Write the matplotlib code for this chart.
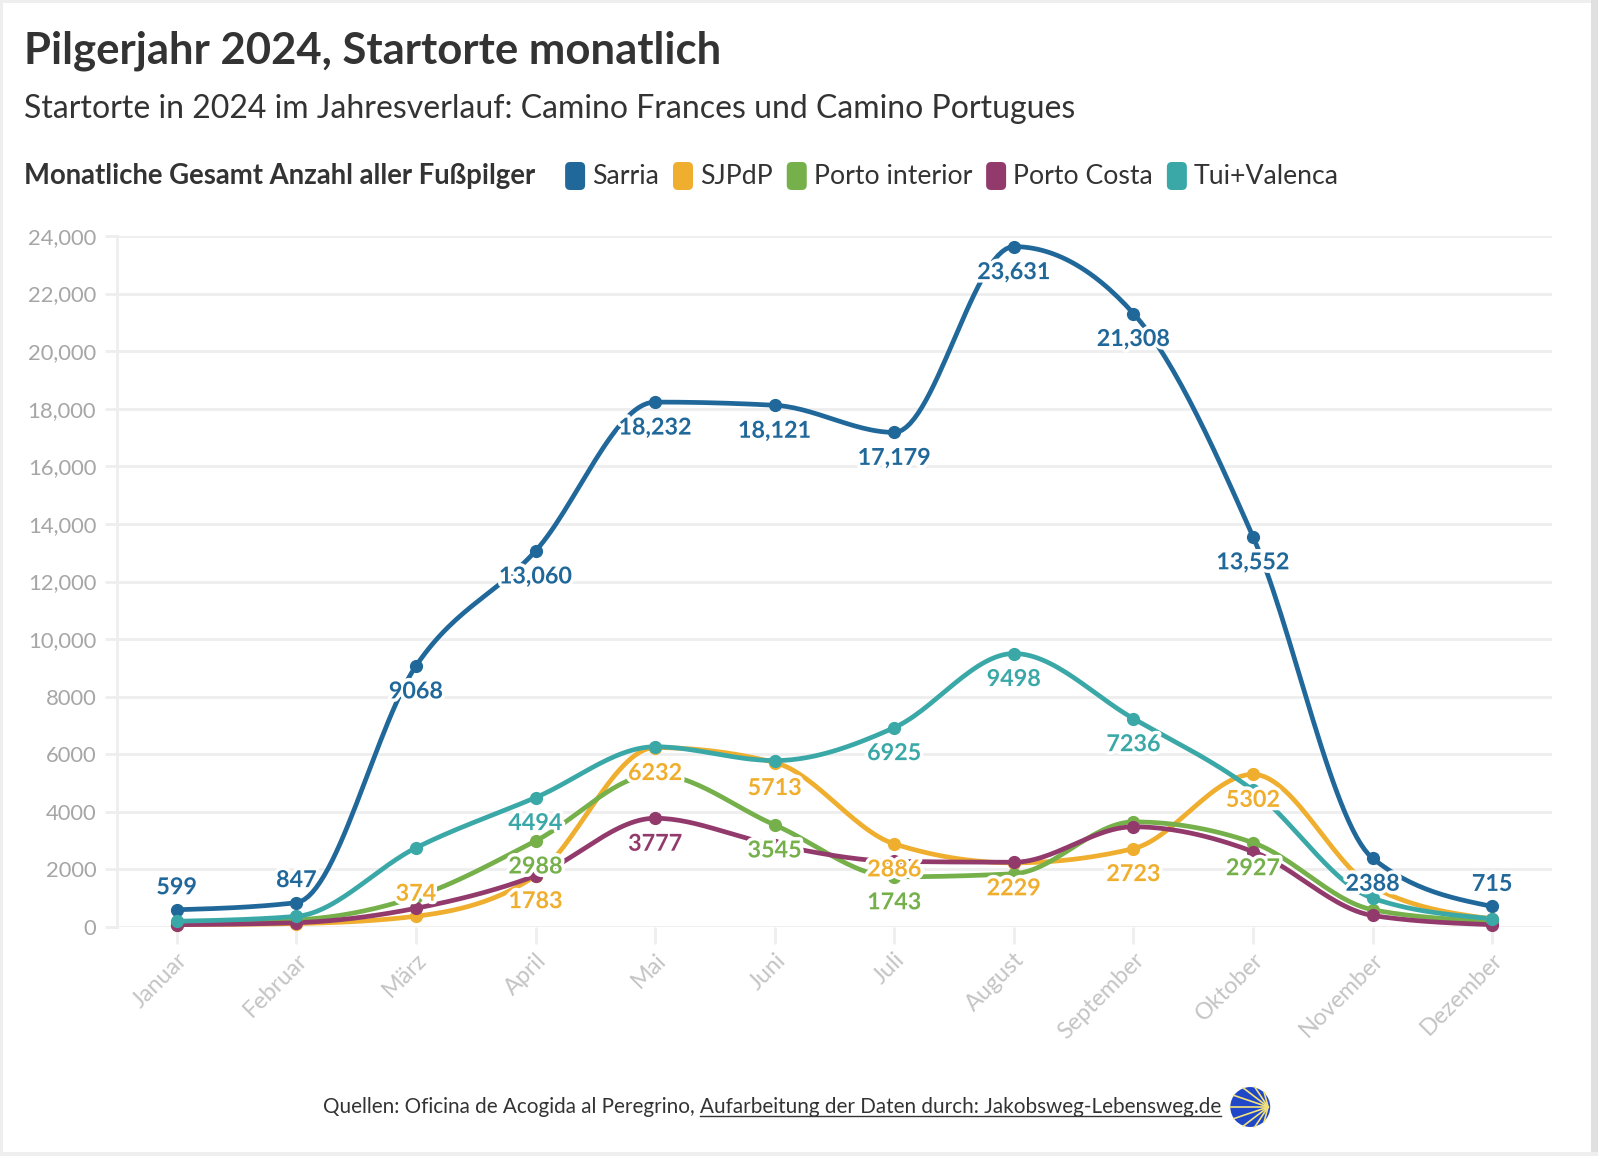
import numpy as np
import matplotlib
matplotlib.use("Agg")
import matplotlib.pyplot as plt
import matplotlib.patheffects as pe
from matplotlib.patches import FancyBboxPatch, Rectangle, Circle
from matplotlib.transforms import IdentityTransform

# ---- data ----
months = ["Januar", "Februar", "März", "April", "Mai", "Juni", "Juli",
          "August", "September", "Oktober", "November", "Dezember"]

series_names = ["Sarria", "SJPdP", "Porto interior", "Porto Costa", "Tui+Valenca"]
series_colors = ["#21689a", "#efae2e", "#76b04b", "#933a6c", "#3ba8a8"]

sarria = [599, 847, 9068, 13060, 18232, 18121, 17179, 23631, 21308, 13552, 2388, 715]
sjpdp = [80, 120, 374, 1783, 6232, 5713, 2886, 2229, 2723, 5302, 1400, 280]
porto_interior = [150, 250, 1050, 2988, 5300, 3545, 1743, 1850, 3650, 2927, 600, 200]
porto_costa = [80, 150, 650, 1780, 3777, 2850, 2280, 2250, 3480, 2620, 400, 80]
tui_valenca = [200, 370, 2750, 4494, 6260, 5780, 6925, 9498, 7236, 4750, 1000, 290]

# which month values carry a visible label (1 = below point, -1 = above point, 0 = none)
sarria_lbl = [-1, -1, 1, 1, 1, 1, 1, 1, 1, 1, 1, -1]
sjpdp_lbl = [0, 0, -1, 1, 1, 1, 1, 1, 1, 1, 0, 0]
porto_interior_lbl = [0, 0, 0, 1, 0, 1, 1, 0, 0, 1, 0, 0]
porto_costa_lbl = [0, 0, 0, 0, 1, 0, 0, 0, 0, 0, 0, 0]
tui_valenca_lbl = [0, 0, 0, 1, 0, 0, 1, 1, 1, 0, 0, 0]

all_values = [sarria, sjpdp, porto_interior, porto_costa, tui_valenca]
all_labels = [sarria_lbl, sjpdp_lbl, porto_interior_lbl, porto_costa_lbl, tui_valenca_lbl]

y_ticks = list(range(0, 24001, 2000))

FONT = "Lato"
DARK = "#333333"


def fmt(v):
    if v >= 10000:
        return f"{v:,.0f}"
    return f"{v:.0f}"


def monotone_x(x, y, n=30):
    # same idea as d3.curveMonotoneX (Steffen)
    x = np.asarray(x, float)
    y = np.asarray(y, float)
    h = np.diff(x)
    s = np.diff(y) / h
    m = np.zeros(len(x))
    for i in range(1, len(x) - 1):
        h0, h1, s0, s1 = h[i - 1], h[i], s[i - 1], s[i]
        p = (s0 * h1 + s1 * h0) / (h0 + h1)
        m[i] = (np.sign(s0) + np.sign(s1)) * min(abs(s0), abs(s1), 0.5 * abs(p))
    m[0] = (3 * s[0] - m[1]) / 2
    m[-1] = (3 * s[-1] - m[-2]) / 2
    xs, ys = [], []
    for i in range(len(x) - 1):
        t = np.linspace(0, 1, n, endpoint=(i == len(x) - 2))
        h00 = 2 * t**3 - 3 * t**2 + 1
        h10 = t**3 - 2 * t**2 + t
        h01 = -2 * t**3 + 3 * t**2
        h11 = t**3 - t**2
        xs.append(x[i] + t * h[i])
        ys.append(h00 * y[i] + h10 * h[i] * m[i] + h01 * y[i + 1] + h11 * h[i] * m[i + 1])
    return np.concatenate(xs), np.concatenate(ys)


W, H = 1598, 1156
fig = plt.figure(figsize=(W / 100, H / 100), dpi=100)
fig.patch.set_facecolor("white")

# light frame of the screenshot
fig.add_artist(Rectangle((0, 0), 3 / W, 1, transform=fig.transFigure, color="#eeeeee", lw=0))
fig.add_artist(Rectangle((0, 1 - 3 / H), 1, 3 / H, transform=fig.transFigure, color="#eeeeee", lw=0))
fig.add_artist(Rectangle((1 - 7 / W, 0), 7 / W, 1, transform=fig.transFigure, color="#e0e0e0", lw=0))
fig.add_artist(Rectangle((0, 0), 1, 4 / H, transform=fig.transFigure, color="#eeeeee", lw=0))

ax = fig.add_axes([117 / W, 1 - 927 / H, (1552 - 117) / W, (927 - 236) / H])
x = np.arange(len(months))

for vals, labs, col in zip(all_values, all_labels, series_colors):
    xs, ys = monotone_x(x, vals)
    ax.plot(xs, ys, color=col, lw=3.4, solid_capstyle="round", zorder=3, clip_on=False)
    ax.plot(x, vals, "o", color=col, ms=8.5, zorder=4, clip_on=False)

for vals, labs, col in zip(all_values, all_labels, series_colors):
    for i, (v, lb) in enumerate(zip(vals, labs)):
        if lb == 0:
            continue
        off = -26 if lb > 0 else 22
        t = ax.annotate(fmt(v), (i, v), xytext=(0, off * 0.72), textcoords="offset points",
                        ha="center", va="center", fontsize=16.8, fontweight="bold",
                        color=col, family=FONT, zorder=6)
        t.set_path_effects([pe.withStroke(linewidth=5, foreground="white")])

ax.set_xlim(-0.5, 11.5)
ax.set_ylim(0, 24000)
ax.set_yticks(y_ticks)
ax.set_yticklabels([fmt(v) for v in y_ticks], fontsize=15.8, color="#a6a6a6", family=FONT)
ax.set_xticks(x)
ax.set_xticklabels(months, rotation=45, ha="right", rotation_mode="anchor",
                   fontsize=16.8, color="#c4c4c4", family=FONT)
ax.tick_params(axis="y", length=9, width=2, color="#eeeeee", pad=6)
ax.tick_params(axis="x", length=12, width=2, color="#eeeeee", pad=4)
ax.grid(axis="y", color="#eeeeee", lw=2)
ax.set_axisbelow(True)
for side in ["top", "right", "bottom"]:
    ax.spines[side].set_visible(False)
ax.spines["left"].set_color("#eeeeee")
ax.spines["left"].set_linewidth(2)

# ---- titles ----
fig.text(24 / W, 1 - 51 / H, "Pilgerjahr 2024, Startorte monatlich", fontsize=31.4,
         fontweight="bold", color=DARK, family=FONT, va="center")
fig.text(24 / W, 1 - 109 / H,
         "Startorte in 2024 im Jahresverlauf: Camino Frances und Camino Portugues",
         fontsize=23, color=DARK, family=FONT, va="center")

# ---- legend ----
fig.canvas.draw()
r = fig.canvas.get_renderer()
ly = H - 176
head = fig.text(24 / W, ly / H, "Monatliche Gesamt Anzahl aller Fußpilger", fontsize=19.8,
                fontweight="bold", color=DARK, family=FONT, va="center")
xpos = head.get_window_extent(r).x1 + 30
for name, col in zip(series_names, series_colors):
    sw = FancyBboxPatch((xpos, ly - 14), 20, 28, boxstyle="round,pad=0,rounding_size=5",
                        transform=IdentityTransform(), color=col, lw=0)
    fig.add_artist(sw)
    t = fig.text((xpos + 27) / W, ly / H, name, fontsize=19.2, color=DARK,
                 family=FONT, va="center")
    xpos = t.get_window_extent(r).x1 + 14

# ---- footer ----
fy = H - 1107
f1 = fig.text(323 / W, fy / H, "Quellen: Oficina de Acogida al Peregrino, ", fontsize=14.9,
              color=DARK, family=FONT, va="center")
x1 = f1.get_window_extent(r).x1
f2 = fig.text(x1 / W, fy / H, "Aufarbeitung der Daten durch: Jakobsweg-Lebensweg.de",
              fontsize=14.9, color=DARK, family=FONT, va="center")
bb = f2.get_window_extent(r)
fig.add_artist(plt.Line2D([bb.x0, bb.x1], [bb.y0 + 1, bb.y0 + 1], transform=IdentityTransform(),
                          color=DARK, lw=1))
cx, cy, rad = bb.x1 + 29, fy, 21
disc = Circle((cx, cy), rad, transform=IdentityTransform(), color="#1f47c8", lw=0)
fig.add_artist(disc)
for ang in np.linspace(105, 255, 9):
    a = np.deg2rad(ang)
    ray = plt.Line2D([cx + rad * 0.85, cx + rad * 0.85 + rad * 2.2 * np.cos(a)],
                     [cy, cy + rad * 2.2 * np.sin(a)], transform=IdentityTransform(),
                     color="#f4e27a", lw=1.2)
    fig.add_artist(ray)
    ray.set_clip_path(disc)
fig.add_artist(Circle((cx, cy), rad, transform=IdentityTransform(), fill=False,
                      edgecolor="white", lw=1.5))

fig.savefig("out.png", dpi=100)
